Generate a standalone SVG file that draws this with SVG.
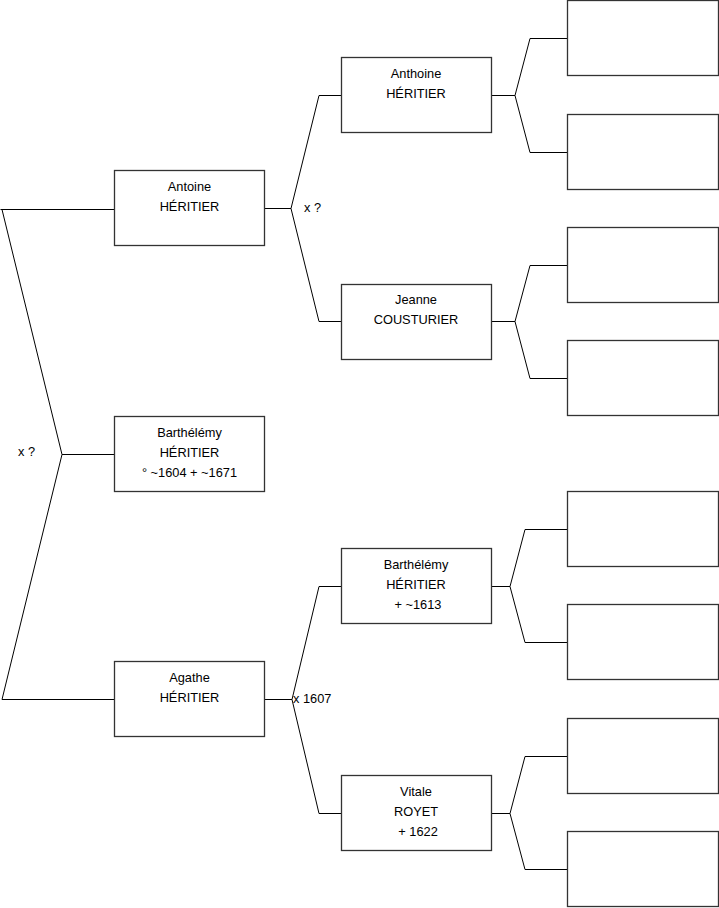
<svg xmlns="http://www.w3.org/2000/svg" width="719" height="908" viewBox="0 0 719 908">
<style>
.box{fill:#fff;stroke:#333;stroke-width:1.3}
.ln{fill:none;stroke:#000;stroke-width:1}
text{font-family:"Liberation Sans",Arial,sans-serif;font-size:12.8px;fill:#000}
.c{text-anchor:middle}
</style>
<rect width="719" height="908" fill="#fff"/>
<g id="connectors">
<path class="ln" d="M0.5,209.5H114 M2,209.5L62,454.5L2,699.5H114 M62,454.5H114"/>
<path class="ln" d="M265,208.5H291 M341,95.5H319L291,208.5L319,321.5H341"/>
<path class="ln" d="M265,699.5H292 M341,586.5H319L292,699.5L319,813.5H341"/>
<path class="ln" d="M491,95.5H515 M567,38.5H530L515,95.5L530,152.5H567"/>
<path class="ln" d="M491,321.5H515 M567,265.5H530L515,321.5L530,378.5H567"/>
<path class="ln" d="M491,586.5H510 M567,529.5H525L510,586.5L525,642.5H567"/>
<path class="ln" d="M491,813.5H510 M567,756.5H525L510,813.5L525,869.5H567"/>
<text x="18" y="456">x ?</text>
<text x="304" y="212">x ?</text>
<text x="293" y="703">x 1607</text>
</g>
<g id="antoine"><rect class="box" x="114.5" y="170.5" width="150" height="75"/><text class="c" x="189.5" y="191">Antoine</text><text class="c" x="189.5" y="211">HÉRITIER</text></g>
<g id="barthelemy1"><rect class="box" x="114.5" y="416.5" width="150" height="75"/><text class="c" x="189.5" y="437">Barthélémy</text><text class="c" x="189.5" y="457">HÉRITIER</text><text class="c" x="189.5" y="477">° ~1604 + ~1671</text></g>
<g id="agathe"><rect class="box" x="114.5" y="661.5" width="150" height="75"/><text class="c" x="189.5" y="682">Agathe</text><text class="c" x="189.5" y="702">HÉRITIER</text></g>
<g id="anthoine"><rect class="box" x="341.5" y="57.5" width="150" height="75"/><text class="c" x="416" y="78">Anthoine</text><text class="c" x="416" y="98">HÉRITIER</text></g>
<g id="jeanne"><rect class="box" x="341.5" y="284.5" width="150" height="75"/><text class="c" x="416" y="304">Jeanne</text><text class="c" x="416" y="324">COUSTURIER</text></g>
<g id="barthelemy2"><rect class="box" x="341.5" y="548.5" width="150" height="75"/><text class="c" x="416" y="569">Barthélémy</text><text class="c" x="416" y="589">HÉRITIER</text><text class="c" x="418" y="609">+ ~1613</text></g>
<g id="vitale"><rect class="box" x="341.5" y="775.5" width="150" height="75"/><text class="c" x="416" y="796">Vitale</text><text class="c" x="416" y="816">ROYET</text><text class="c" x="418" y="836">+ 1622</text></g>
<g id="g3a"><rect class="box" x="567.5" y="0.5" width="151" height="75"/></g>
<g id="g3b"><rect class="box" x="567.5" y="114.5" width="151" height="75"/></g>
<g id="g3c"><rect class="box" x="567.5" y="227.5" width="151" height="75"/></g>
<g id="g3d"><rect class="box" x="567.5" y="340.5" width="151" height="75"/></g>
<g id="g3e"><rect class="box" x="567.5" y="491.5" width="151" height="75"/></g>
<g id="g3f"><rect class="box" x="567.5" y="604.5" width="151" height="75"/></g>
<g id="g3g"><rect class="box" x="567.5" y="718.5" width="151" height="75"/></g>
<g id="g3h"><rect class="box" x="567.5" y="831.5" width="151" height="75"/></g>
</svg>
